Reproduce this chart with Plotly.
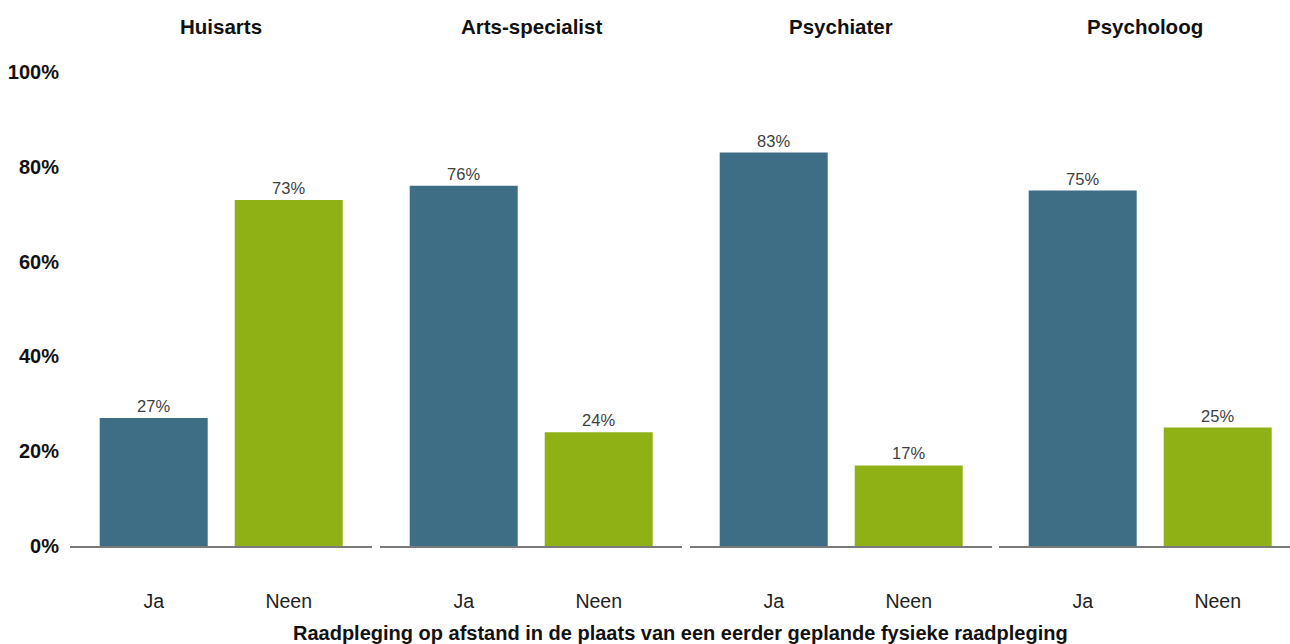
import plotly.graph_objects as go

panels = ["Huisarts", "Arts-specialist", "Psychiater", "Psycholoog"]
categories = ["Ja", "Neen"]
ja_values = [27, 76, 83, 75]
neen_values = [73, 24, 17, 25]
y_ticks = [0, 20, 40, 60, 80, 100]
y_tick_labels = ["0%", "20%", "40%", "60%", "80%", "100%"]
x_title = "Raadpleging op afstand in de plaats van een eerder geplande fysieke raadpleging"

colors = ["#3E6E85", "#8FB116"]
FONT = "Liberation Sans, Arial, sans-serif"

W, H = 1290, 644
ml, mr, mt, mb = 70, 0, 72, 98
pw = W - ml - mr
ph = H - mt - mb
px_domains = [(70, 372), (380, 682), (690, 992), (999, 1290)]
domains = [((a - ml) / pw, (b - ml) / pw) for a, b in px_domains]
cat_px = 135.0
pad = 0.62

fig = go.Figure()
for i, name in enumerate(panels):
    vals = [ja_values[i], neen_values[i]]
    xa = "x" if i == 0 else f"x{i+1}"
    fig.add_trace(go.Bar(
        x=categories, y=vals, xaxis=xa, yaxis="y",
        marker=dict(color=colors, line=dict(width=0)),
        text=[f"{v}%" for v in vals], textposition="outside",
        textfont=dict(family=FONT, size=16.5, color="#404040"),
        cliponaxis=False, showlegend=False, hoverinfo="skip",
    ))
    a, b = px_domains[i]
    span = (b - a) / cat_px
    key = "xaxis" if i == 0 else f"xaxis{i+1}"
    fig.layout[key] = dict(
        domain=list(domains[i]), anchor="y",
        range=[-pad, -pad + span],
        showline=True, linecolor="#7a7a7a", linewidth=1.5,
        showgrid=False, zeroline=False, ticks="",
        ticklabelstandoff=37,
        tickfont=dict(family=FONT, size=19.5, color="#222222"),
        fixedrange=True,
    )
    fig.add_annotation(
        x=((a + b) / 2 - ml) / pw, xref="paper",
        y=(H - mb - 27) / ph, yref="paper",
        text=f"<b>{name}</b>", showarrow=False,
        xanchor="center", yanchor="middle",
        font=dict(family=FONT, size=20.5, color="#111111"),
    )

fig.add_annotation(
    x=0.5, xref="paper", y=(H - mb - 633) / ph, yref="paper",
    text=f"<b>{x_title}</b>", showarrow=False, xanchor="center", yanchor="middle",
    font=dict(family=FONT, size=20, color="#111111"),
)

fig.update_layout(
    width=W, height=H,
    margin=dict(l=ml, r=mr, t=mt, b=mb),
    paper_bgcolor="white", plot_bgcolor="white",
    bargap=0.2,
    yaxis=dict(
        range=[0, 100], tickvals=y_ticks, ticktext=y_tick_labels,
        showgrid=False, zeroline=False, showline=False, ticks="",
        ticklabelstandoff=10,
        tickfont=dict(family=FONT, size=20, color="#111111", weight="bold"),
        fixedrange=True,
    ),
)

fig.write_html(
    "out.html",
    config={"displayModeBar": False},
    post_script="document.body.style.margin='0';document.body.style.overflow='hidden';",
)
